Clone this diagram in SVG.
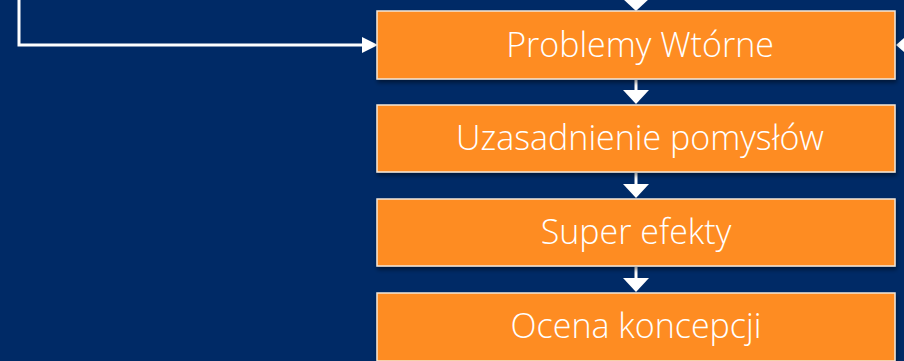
<svg xmlns="http://www.w3.org/2000/svg" width="904" height="361" viewBox="0 0 904 361">
<defs>
<filter id="sh" x="-5%" y="-20%" width="110%" height="150%">
<feDropShadow dx="1" dy="3" stdDeviation="2" flood-color="#000" flood-opacity="0.45"/>
</filter>
<style>
.box{fill:#FE8C22;stroke:#f3e6d8;stroke-width:1.5;filter:url(#sh)}
.lbl{fill:#fff;font-family:"Open Sans","Noto Sans",sans-serif;font-size:34px;font-weight:300;text-anchor:middle;dominant-baseline:central}
.c{stroke:#fff;stroke-width:3;fill:none}
.h{fill:#fff}
</style>
</defs>
<rect width="904" height="361" fill="#002A66"/>
<g id="connectors">
<path class="c" d="M19,0 V45 H364"/>
<path class="h" d="M362,37 L378,45 L362,53 Z"/>
<path class="h" d="M622,-2 L650,-2 L636,11 Z"/>
<path class="c" d="M636,80 V92"/>
<path class="h" d="M623,90 L649,90 L636,104 Z"/>
<path class="c" d="M636,173 V186"/>
<path class="h" d="M623,184 L649,184 L636,198 Z"/>
<path class="c" d="M636,267 V280"/>
<path class="h" d="M623,278 L649,278 L636,292 Z"/>
<path class="h" d="M904,38 L896,45 L904,52 Z"/>
</g>
<g id="n1"><rect class="box" x="377" y="11" width="518" height="68"/><text class="lbl" x="640" y="44">Problemy Wtórne</text></g>
<g id="n2"><rect class="box" x="377" y="105" width="518" height="67"/><text class="lbl" x="640" y="137">Uzasadnienie pomysłów</text></g>
<g id="n3"><rect class="box" x="377" y="199" width="518" height="67"/><text class="lbl" x="636" y="231">Super efekty</text></g>
<g id="n4"><rect class="box" x="377" y="293" width="518" height="68"/><text class="lbl" x="636" y="325">Ocena koncepcji</text></g>
</svg>
